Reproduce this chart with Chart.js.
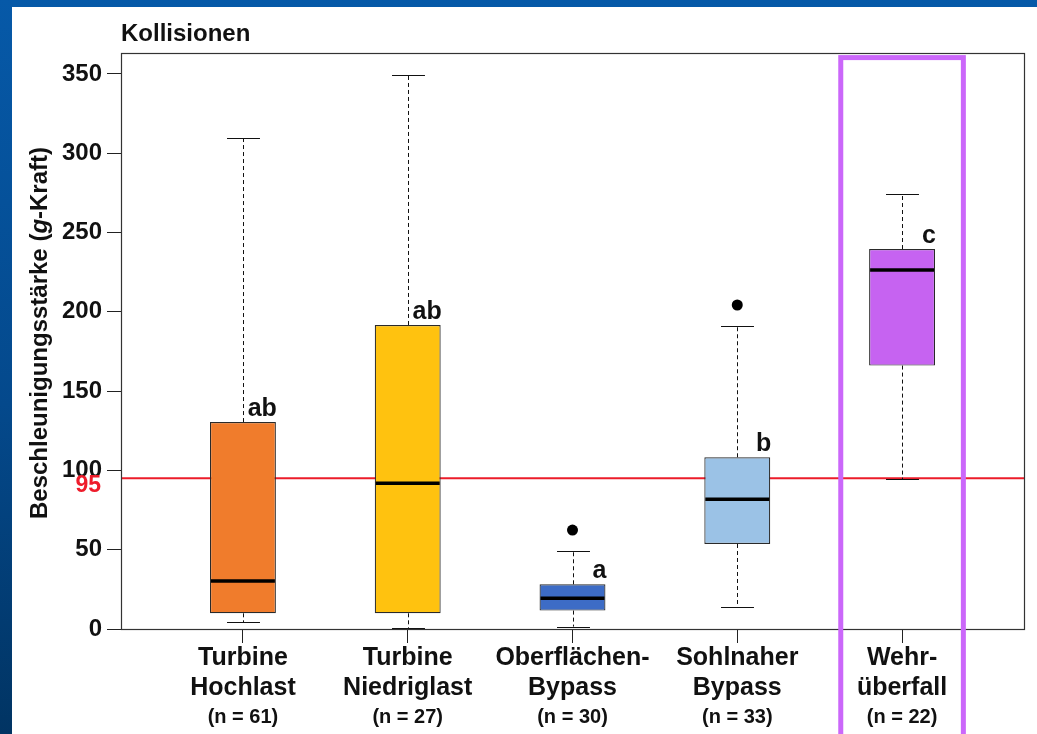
<!DOCTYPE html>
<html>
<head>
<meta charset="utf-8">
<script src="https://cdn.jsdelivr.net/npm/chart.js@4.4.1/dist/chart.umd.min.js"></script>
<style>
  html, body { margin: 0; padding: 0; }
  body {
    width: 1037px; height: 734px; position: relative; overflow: hidden;
    background: linear-gradient(to bottom, #0659a8 0%, #04498c 55%, #013463 100%);
  }
  #panel { position: absolute; left: 12px; top: 7px; width: 1025px; height: 727px; background: #ffffff; }
  canvas { display: block; }
</style>
</head>
<body>
<div id="panel"><canvas id="chart" width="1025" height="727"></canvas></div>
<script>
// Collision accelerations per passage route (box plots)
const categoryTop    = ['Turbine', 'Turbine', 'Oberflächen-', 'Sohlnaher', 'Wehr-'];
const categoryBottom = ['Hochlast', 'Niedriglast', 'Bypass', 'Bypass', 'überfall'];
const sampleSizes    = [61, 27, 30, 33, 22];

const whiskerLow  = [4.2,   0.5,   1.5,  13.7,  94.4];
const q1          = [9.9,   9.9,  11.6,  53.6, 166.1];
const median      = [30.3,  91.9,  19.4,  81.8, 226.4];
const q3          = [130.5, 191.7, 28.2, 108.3, 239.6];
const whiskerHigh = [309.4, 349.4, 49.4, 191.1, 274.1];

const outlierGroup = [3, 4];          // 1-based group positions
const outlierValue = [62.4, 204.3];

const groupLetters = ['ab', 'ab', 'a', 'b', 'c'];
const boxColors    = ['#f07c2c', '#ffc20f', '#3d6cc6', '#9bc2e6', '#c663f1'];

const threshold = 95;
const yTickValues = [0, 50, 100, 150, 200, 250, 300, 350];
const highlightGroup = 5;

const FONT = "'Liberation Sans', Arial, Helvetica, sans-serif";
const positions = categoryTop.map((_, i) => i + 1);

function strokeLine(ctx, x1, y1, x2, y2) {
  ctx.beginPath(); ctx.moveTo(x1, y1); ctx.lineTo(x2, y2); ctx.stroke();
}

const boxPlotPlugin = {
  id: 'boxPlot',
  beforeDatasetsDraw(chart) {
    const { ctx, chartArea: a, scales: { y } } = chart;
    const py = y.getPixelForValue(threshold);
    ctx.save();
    ctx.strokeStyle = '#ec1c2a';
    ctx.lineWidth = 2;
    strokeLine(ctx, a.left, py, a.right, py);
    ctx.restore();
  },
  afterDatasetsDraw(chart) {
    const { ctx, scales: { y } } = chart;
    const meta = chart.getDatasetMeta(0);
    ctx.save();
    meta.data.forEach((bar, i) => {
      const cx = Math.round(bar.x) + 0.5;
      const half = bar.width / 2;
      const yLow = y.getPixelForValue(whiskerLow[i]);
      const yQ1 = y.getPixelForValue(q1[i]);
      const yMed = y.getPixelForValue(median[i]);
      const yQ3 = y.getPixelForValue(q3[i]);
      const yHigh = y.getPixelForValue(whiskerHigh[i]);

      ctx.strokeStyle = '#111';
      ctx.lineWidth = 1;
      ctx.setLineDash([4, 3]);
      strokeLine(ctx, cx, yQ3, cx, yHigh);
      strokeLine(ctx, cx, yQ1, cx, yLow);
      ctx.setLineDash([]);
      strokeLine(ctx, cx - half / 2, Math.round(yHigh) + 0.5, cx + half / 2, Math.round(yHigh) + 0.5);
      strokeLine(ctx, cx - half / 2, Math.round(yLow) + 0.5, cx + half / 2, Math.round(yLow) + 0.5);

      ctx.strokeStyle = '#000';
      ctx.lineWidth = 3.5;
      strokeLine(ctx, bar.x - half + 1, yMed, bar.x + half - 1, yMed);

      ctx.fillStyle = '#111';
      ctx.font = `bold 25px ${FONT}`;
      ctx.textAlign = 'right';
      ctx.textBaseline = 'alphabetic';
      ctx.fillText(groupLetters[i], bar.x + half + 1, yQ3 - 6);
    });
    ctx.restore();
  },
  afterDraw(chart) {
    const { ctx, chartArea: a, scales: { x, y } } = chart;
    ctx.save();

    // plot frame
    ctx.strokeStyle = '#333';
    ctx.lineWidth = 1.2;
    ctx.strokeRect(Math.round(a.left) + 0.5, Math.round(a.top) + 0.5,
                   Math.round(a.right - a.left), Math.round(a.bottom - a.top));

    // title
    ctx.fillStyle = '#111';
    ctx.font = `bold 24px ${FONT}`;
    ctx.textAlign = 'left';
    ctx.textBaseline = 'alphabetic';
    ctx.fillText('Kollisionen', a.left, 34);

    // category labels
    ctx.textAlign = 'center';
    ctx.textBaseline = 'middle';
    positions.forEach((p, i) => {
      const px = x.getPixelForValue(p);
      ctx.font = `bold 25px ${FONT}`;
      ctx.fillText(categoryTop[i], px, a.bottom + 29);
      ctx.fillText(categoryBottom[i], px, a.bottom + 59);
      ctx.font = `bold 20px ${FONT}`;
      ctx.fillText(`(n = ${sampleSizes[i]})`, px, a.bottom + 88);
    });

    // threshold label
    ctx.fillStyle = '#ee1c2b';
    ctx.font = `bold 23px ${FONT}`;
    ctx.textAlign = 'right';
    ctx.fillText(String(threshold), 89, y.getPixelForValue(threshold) + 7);

    // y axis title with italic g
    const parts = [
      { t: 'Beschleunigungsstärke (', f: `bold 24px ${FONT}` },
      { t: 'g', f: `italic bold 24px ${FONT}` },
      { t: '-Kraft)', f: `bold 24px ${FONT}` }
    ];
    let total = 0;
    parts.forEach(pt => { ctx.font = pt.f; pt.w = ctx.measureText(pt.t).width; total += pt.w; });
    ctx.translate(28, (a.top + a.bottom) / 2 - 8);
    ctx.rotate(-Math.PI / 2);
    ctx.fillStyle = '#111';
    ctx.textAlign = 'left';
    ctx.textBaseline = 'middle';
    let cur = -total / 2;
    parts.forEach(pt => { ctx.font = pt.f; ctx.fillText(pt.t, cur, 0); cur += pt.w; });
    ctx.setTransform(1, 0, 0, 1, 0, 0);

    // highlight frame around one group
    const hl = x.getPixelForValue(highlightGroup - 0.372);
    const hr = x.getPixelForValue(highlightGroup + 0.372);
    const ht = y.getPixelForValue(360.3);
    ctx.strokeStyle = '#cb67fa';
    ctx.lineWidth = 5;
    ctx.strokeRect(hl, ht, hr - hl, chart.height + 20 - ht);

    ctx.restore();
  }
};

new Chart(document.getElementById('chart'), {
  type: 'bar',
  data: {
    datasets: [
      {
        type: 'bar',
        data: positions.map((p, i) => ({ x: p, y: [q1[i], q3[i]] })),
        backgroundColor: boxColors,
        borderColor: '#2a2a2a',
        borderWidth: 1.2,
        borderSkipped: false,
        barPercentage: 0.4,
        categoryPercentage: 1.0
      },
      {
        type: 'line',
        data: outlierGroup.map((g, i) => ({ x: g, y: outlierValue[i] })),
        showLine: false,
        pointRadius: 5.5,
        pointBackgroundColor: '#000',
        pointBorderColor: '#000',
        pointBorderWidth: 0
      }
    ]
  },
  options: {
    responsive: false,
    animation: false,
    devicePixelRatio: 1,
    layout: { padding: { top: 46, right: 13, left: 0, bottom: 0 } },
    plugins: { legend: { display: false }, tooltip: { enabled: false }, title: { display: false } },
    scales: {
      x: {
        type: 'linear',
        min: 0.26,
        max: 5.74,
        offset: false,
        border: { display: false },
        grid: { offset: false, drawOnChartArea: false, drawTicks: true, tickLength: 14, color: '#222', lineWidth: 1 },
        ticks: { display: false },
        afterBuildTicks: s => { s.ticks = positions.map(v => ({ value: v })); },
        afterFit: s => { s.height = 105; }
      },
      y: {
        type: 'linear',
        min: 0,
        max: 363.2,
        border: { display: false },
        grid: { offset: false, drawOnChartArea: false, drawTicks: true, tickLength: 14, color: '#222', lineWidth: 1 },
        ticks: {
          color: '#111',
          padding: 5,
          font: { family: FONT, size: 24, weight: 'bold' }
        },
        afterBuildTicks: s => { s.ticks = yTickValues.map(v => ({ value: v })); },
        afterFit: s => { s.width = 109; }
      }
    }
  },
  plugins: [boxPlotPlugin]
});
</script>
</body>
</html>
